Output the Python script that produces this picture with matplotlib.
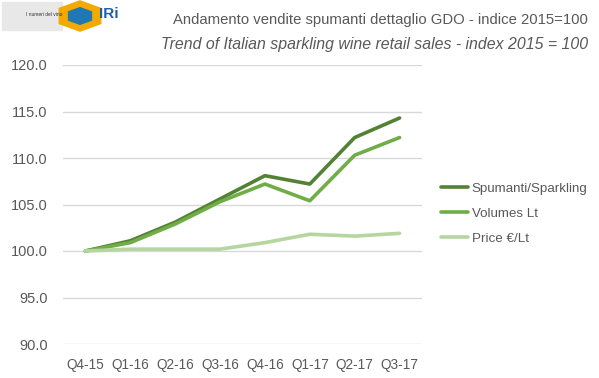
import matplotlib.pyplot as plt
from matplotlib.patches import RegularPolygon, Rectangle

quarters = ['Q4-15', 'Q1-16', 'Q2-16', 'Q3-16', 'Q4-16', 'Q1-17', 'Q2-17', 'Q3-17']
spumanti = [100.0, 101.1, 103.1, 105.6, 108.1, 107.2, 112.2, 114.3]
volumes = [100.0, 100.9, 102.9, 105.3, 107.2, 105.4, 110.3, 112.2]
price = [100.0, 100.2, 100.2, 100.2, 100.9, 101.8, 101.6, 101.9]
yticks = [90, 95, 100, 105, 110, 115, 120]

plt.rcParams['font.family'] = ['Liberation Sans', 'DejaVu Sans']
grey = '#595959'

fig = plt.figure(figsize=(5.99, 3.78), dpi=100)
ax = fig.add_axes([63 / 599, 1 - 344 / 378, (422 - 63) / 599, (344 - 65) / 378])

x = range(len(quarters))
ax.plot(x, spumanti, color='#548235', lw=2.6, label='Spumanti/Sparkling', solid_capstyle='round')
ax.plot(x, volumes, color='#70ad47', lw=2.6, label='Volumes Lt', solid_capstyle='round')
ax.plot(x, price, color='#b5d6a0', lw=2.6, label='Price €/Lt', solid_capstyle='round')

ax.set_xlim(-0.5, 7.5)
ax.set_ylim(90, 120)
ax.set_yticks(yticks)
ax.set_yticklabels([f'{v:.1f}' for v in yticks])
ax.set_xticks(list(x))
ax.set_xticklabels(quarters)
ax.grid(axis='y', color='#d9d9d9', lw=1)
ax.set_axisbelow(True)
for s in ax.spines.values():
    s.set_visible(False)
ax.tick_params(axis='y', length=0, colors=grey, labelsize=10.5, pad=11)
ax.tick_params(axis='x', length=0, colors=grey, labelsize=9.8, pad=10)

ax.legend(loc='center left', bbox_to_anchor=(1.02, 0.466), frameon=False,
          fontsize=9.6, labelcolor=grey, handlelength=2.0, handletextpad=0.3,
          labelspacing=0.95)

# titles
fig.text(588 / 599, 1 - 20 / 378, 'Andamento vendite spumanti dettaglio GDO - indice 2015=100',
         ha='right', va='center', fontsize=10.7, color=grey)
fig.text(588 / 599, 1 - 44 / 378, 'Trend of Italian sparkling wine retail sales - index 2015 = 100',
         ha='right', va='center', fontsize=11.4, color=grey, style='italic')

# rough logo placeholders
fig.patches.append(Rectangle((2 / 599, 1 - 30 / 378), 60 / 599, 28 / 378,
                             transform=fig.transFigure, color='#e8e8e8'))
fig.text(26 / 599, 1 - 14 / 378, 'I numeri del vino', fontsize=3.5, color='#333333', va='center')
fig.patches.append(RegularPolygon((80 / 599, 1 - 16 / 378), 6, radius=0.04,
                                  transform=fig.transFigure, color='#f2a900'))
fig.patches.append(RegularPolygon((80 / 599, 1 - 16 / 378), 6, radius=0.022,
                                  transform=fig.transFigure, color='#1f77b4'))
fig.text(99 / 599, 1 - 14 / 378, 'IRi', fontsize=11, fontweight='bold', color='#1f5fa8', va='center')

fig.savefig('out.png', dpi=100)
